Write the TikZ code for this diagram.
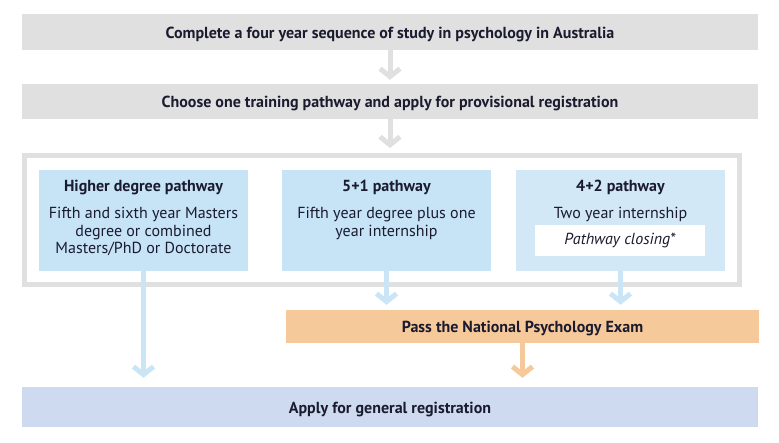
\documentclass[tikz,border=0pt]{standalone}
\usepackage{fontspec}
\setmainfont{PT Sans}
\usetikzlibrary{arrows.meta,positioning,calc}
\definecolor{ink}{HTML}{1B1B2F}
\definecolor{greyc}{HTML}{E1E0E1}
\definecolor{paleblue}{HTML}{C6E4F6}
\definecolor{paleblue2}{HTML}{D2E8F7}
\definecolor{arrblue}{HTML}{C9E5F6}
\definecolor{examc}{HTML}{F6C99B}
\definecolor{regc}{HTML}{CEDAF0}
\tikzset{
  base/.style={inner sep=0pt, text=ink, font=\fontsize{16}{17.5}\selectfont},
  bar/.style={base, fill=#1, draw=none, text height=12pt, text depth=0pt, font=\fontsize{16}{18}\selectfont\bfseries},
  tint/.style={base, fill=#1, minimum width=209, minimum height=101},
  frame/.style={draw=greyc, line width=5pt, minimum width=715, minimum height=129},
  head/.style={base, anchor=base, font=\fontsize{16}{18}\selectfont\bfseries},
  lab/.style={base, anchor=north, align=center},
  arr/.style={-{Straight Barb[length=8pt,width=20pt]}, line width=5pt, draw=#1},
}
\begin{document}
\begin{tikzpicture}[x=1pt, y=-1pt]
  \useasboundingbox (0,0) rectangle (779,442);
  \node[bar=greyc, minimum width=736, minimum height=36] (four) at (390,32) {Complete a four year sequence of study in psychology in Australia};
  \node[bar=greyc, minimum width=736, minimum height=35] (choose) at (390,101.5) {Choose one training pathway and apply for provisional registration};
  \node[frame] (fr) at (382,220) {};
  \node[tint=paleblue] (hd) at (143.5,220.5) {};
  \node[tint=paleblue] (fy) at (386.5,220.5) {};
  \node[tint=paleblue2] (ft) at (620.5,220.5) {};
  \node[head] (hdh) at (143.5,191) {Higher degree pathway};
  \node[lab] (hdb) at (143.5,207) {Fifth and sixth year Masters\\degree or combined\\Masters/PhD or Doctorate};
  \node[head] (fyh) at (386.5,191) {5+1 pathway};
  \node[lab] (fyb) at (386.5,207) {Fifth year degree plus one\\year internship};
  \node[head] (fth) at (620.5,191) {4+2 pathway};
  \node[lab] (ftb) at (620.5,207) {Two year internship};
  \node[base, fill=white, minimum width=170, minimum height=31, font=\fontsize{16}{18}\selectfont\itshape] (close) at (620,240.5) {Pathway closing*};
  \node[bar=examc, minimum width=473, minimum height=33] (exam) at (522.5,326.5) {Pass the National Psychology Exam};
  \node[bar=regc, minimum width=736, minimum height=40] (apply) at (390,407) {Apply for general registration};
  % connectors
  \draw[arr=greyc, shorten >=4pt] (four.south) -- (choose.north);
  \draw[arr=greyc, shorten >=5pt] (choose.south) -- (choose.south |- fr.north);
  \draw[arr=arrblue, shorten >=9pt] (hd.south) -- (hd.south |- apply.north);
  \draw[arr=arrblue, shorten >=5pt] (fy.south) -- (fy.south |- exam.north);
  \draw[arr=arrblue, shorten >=5pt] (ft.south) -- (ft.south |- exam.north);
  \draw[arr=examc, shorten >=9pt] (exam.south) -- (exam.south |- apply.north);
\end{tikzpicture}
\end{document}
